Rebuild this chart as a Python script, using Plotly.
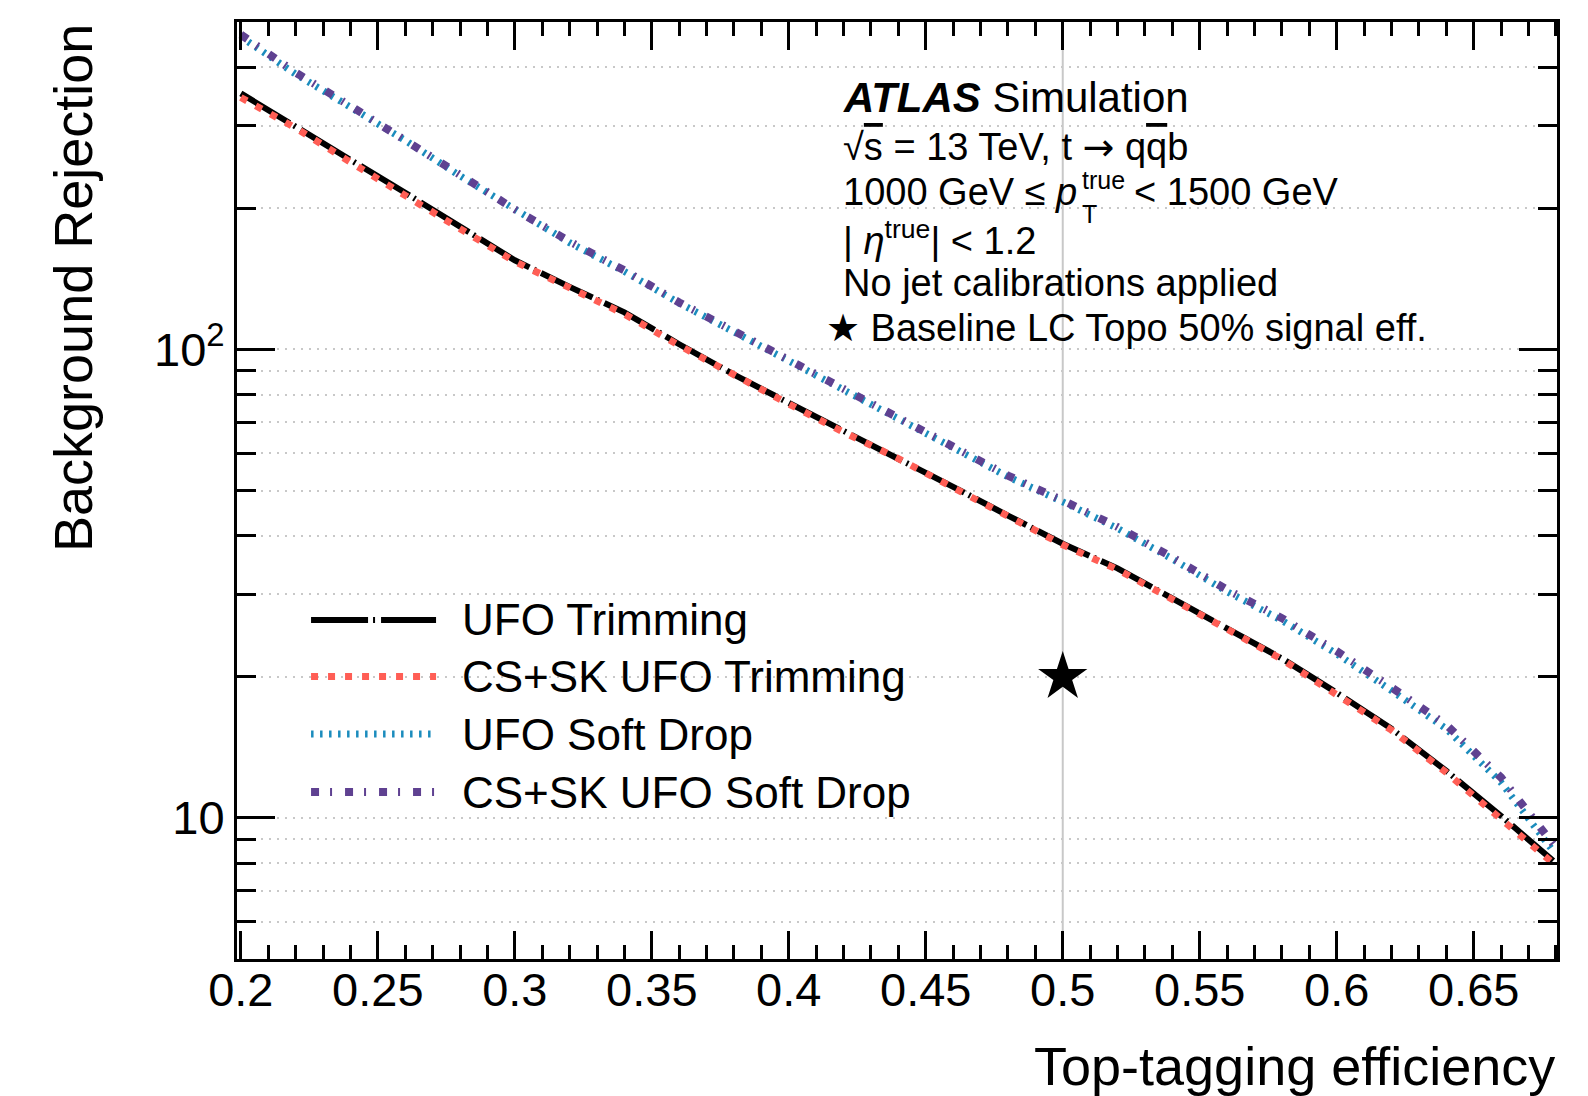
import plotly.graph_objects as go

# ---------------- data ----------------
efficiency = [0.20, 0.22, 0.24, 0.26, 0.28, 0.30, 0.32, 0.34, 0.36, 0.38, 0.40, 0.42,
              0.44, 0.46, 0.48, 0.50, 0.52, 0.54, 0.56, 0.58, 0.60, 0.62, 0.64, 0.66, 0.679]
ufo_trimming = [352, 300, 254, 216, 182.5, 155, 136, 120, 102.6, 88.4, 76.9, 67.0,
                58.8, 50.9, 44.2, 38.5, 34.1, 29.5, 25.4, 21.9, 18.5, 15.5, 12.6, 10.1, 8.1]
cssk_ufo_trimming = [345, 297, 251, 214, 181, 154, 135, 119, 102, 88, 76.5, 66.6,
                     58.5, 50.7, 44.0, 38.3, 33.9, 29.4, 25.3, 21.8, 18.4, 15.4, 12.5, 10.0, 8.0]
ufo_softdrop = [465, 387, 329, 279.4, 234.7, 198.2, 169, 146.7, 125.6, 109, 94.5, 82.1,
                71.2, 62.0, 53.5, 47.3, 41.5, 35.7, 30.4, 26.4, 22.4, 18.7, 15.5, 11.9, 8.5]
cssk_ufo_softdrop = [470, 390, 331, 281, 236, 199, 170, 147.5, 126, 109.5, 95, 82.5,
                     71.6, 62.4, 53.8, 47.6, 41.8, 36.0, 30.7, 26.7, 22.7, 19.0, 15.8, 12.2, 8.8]

series_names = ["UFO Trimming", "CS+SK UFO Trimming", "UFO Soft Drop", "CS+SK UFO Soft Drop"]
series_values = [ufo_trimming, cssk_ufo_trimming, ufo_softdrop, cssk_ufo_softdrop]

baseline_eff = [0.5]
baseline_rej = [20]

x_tick_vals = [0.2, 0.25, 0.3, 0.35, 0.4, 0.45, 0.5, 0.55, 0.6, 0.65]
x_tick_text = ["0.2", "0.25", "0.3", "0.35", "0.4", "0.45", "0.5", "0.55", "0.6", "0.65"]
y_tick_vals = [10, 100]
y_tick_text = ["10", "10<sup>2</sup>"]
y_minor_vals = [5, 6, 7, 8, 9, 20, 30, 40, 50, 60, 70, 80, 90, 200, 300, 400, 500]

# ---------------- styles ----------------
styles = [
    dict(color="#000000", width=6, dash="57px,5px,2px,6px"),
    dict(color="#ff5e55", width=7, dash="7px,10px"),
    dict(color="#1b8cbd", width=7, dash="2.5px,6.5px"),
    dict(color="#5f4191", width=8, dash="8px,11px,2px,13px"),
]

FONT = "Liberation Sans, Arial, Helvetica, sans-serif"

fig = go.Figure()

for name, vals, st in zip(series_names, series_values, styles):
    fig.add_trace(go.Scatter(x=efficiency, y=vals, mode="lines", name=name,
                             line=dict(color=st["color"], width=st["width"], dash=st["dash"]),
                             showlegend=False))

fig.add_trace(go.Scatter(x=baseline_eff, y=baseline_rej, mode="markers",
                         marker=dict(symbol="star", size=37, color="black",
                                     line=dict(width=0)),
                         showlegend=False))

# vertical reference line at baseline efficiency
fig.add_shape(type="line", xref="x", yref="paper", x0=baseline_eff[0], x1=baseline_eff[0],
              y0=0, y1=1, line=dict(color="#c8c8c8", width=2), layer="below")

# ---------------- manual legend ----------------
leg_y = [0.3618, 0.3015, 0.2401, 0.1782]
for name, st, yy in zip(series_names, styles, leg_y):
    fig.add_shape(type="line", xref="paper", yref="paper", x0=0.0561, x1=0.1508, y0=yy, y1=yy,
                  line=dict(color=st["color"], width=st["width"], dash=st["dash"]))
    fig.add_annotation(xref="paper", yref="paper", x=0.1690, y=yy, text=name, showarrow=False,
                       xanchor="left", yanchor="middle", font=dict(size=44, family=FONT, color="black"))

# ---------------- text block ----------------
tx = 0.4572
ann_font = dict(size=38, family=FONT, color="black")
arrow = "<span style='font-family:DejaVu Sans'>→</span>"
lines = [
    ("<b><i>ATLAS</i></b> Simulation", 0.9189, tx, 42),
    ("√<span style='text-decoration:overline'>s</span> = 13 TeV, t " + arrow +
     " q<span style='text-decoration:overline'>q</span>b", 0.8666, tx, 38),
    ("1000 GeV ≤ <i>p</i>", 0.8186, tx, 38),
    ("| <i>η</i><sup>true</sup>| < 1.2", 0.7695, tx, 38),
    ("No jet calibrations applied", 0.7215, tx, 38),
    ("★ Baseline LC Topo 50% signal eff.", 0.6734, 0.4445, 38),
]
for text, yy, xx, fs in lines:
    fig.add_annotation(xref="paper", yref="paper", x=xx, y=yy, text=text, showarrow=False,
                       xanchor="left", yanchor="middle",
                       font=dict(size=fs, family=FONT, color="black"))
# p_T^true pieces
fig.add_annotation(xref="paper", yref="paper", x=(1080 - 237) / 1320, y=1 - (180 - 22) / 937,
                   text="true", showarrow=False, xanchor="left", yanchor="middle",
                   font=dict(size=25, family=FONT, color="black"))
fig.add_annotation(xref="paper", yref="paper", x=(1080 - 237) / 1320, y=1 - (214 - 22) / 937,
                   text="T", showarrow=False, xanchor="left", yanchor="middle",
                   font=dict(size=25, family=FONT, color="black"))
fig.add_annotation(xref="paper", yref="paper", x=(1132 - 237) / 1320, y=0.8186,
                   text="< 1500 GeV", showarrow=False, xanchor="left", yanchor="middle",
                   font=ann_font)

# axis titles
fig.add_annotation(xref="paper", yref="paper", x=1.0, y=(959 - 1066) / 937,
                   text="Top-tagging efficiency", showarrow=False, xanchor="right", yanchor="middle",
                   font=dict(size=54, family=FONT, color="black"))
fig.add_annotation(xref="paper", yref="paper", x=(73 - 237) / 1320, y=1.0,
                   text="Background Rejection", showarrow=False, textangle=-90,
                   xanchor="center", yanchor="top",
                   font=dict(size=54, family=FONT, color="black"))

fig.update_layout(
    width=1588, height=1096,
    margin=dict(l=237, r=31, t=22, b=137, pad=0),
    paper_bgcolor="white", plot_bgcolor="white",
    font=dict(family=FONT, color="black"),
    showlegend=False,
    xaxis=dict(range=[0.1986, 0.6804], showgrid=False, zeroline=False,
               showline=True, linecolor="black", linewidth=3, mirror="ticks",
               ticks="inside", ticklen=28, tickwidth=3, tickcolor="black",
               tickmode="array", tickvals=x_tick_vals, ticktext=x_tick_text,
               ticklabelstandoff=-12,
               tickfont=dict(size=47, family=FONT, color="black"),
               minor=dict(ticks="inside", ticklen=14, tickwidth=3, tickcolor="black",
                          dtick=0.01, tick0=0.2, showgrid=False)),
    yaxis=dict(type="log", range=[0.69897, 2.69897], zeroline=False,
               showline=True, linecolor="black", linewidth=3, mirror="ticks",
               ticks="inside", ticklen=38, tickwidth=3, tickcolor="black",
               tickmode="array", tickvals=y_tick_vals, ticktext=y_tick_text,
               tickfont=dict(size=47, family=FONT, color="black"),
               showgrid=True, gridcolor="#c8c8c8", gridwidth=2, griddash="2px,6px",
               minor=dict(ticks="inside", ticklen=19, tickwidth=3, tickcolor="black",
                          tickmode="array", tickvals=y_minor_vals,
                          showgrid=True, gridcolor="#c8c8c8", gridwidth=2, griddash="2px,6px")),
)

fig.write_html("out.html")
